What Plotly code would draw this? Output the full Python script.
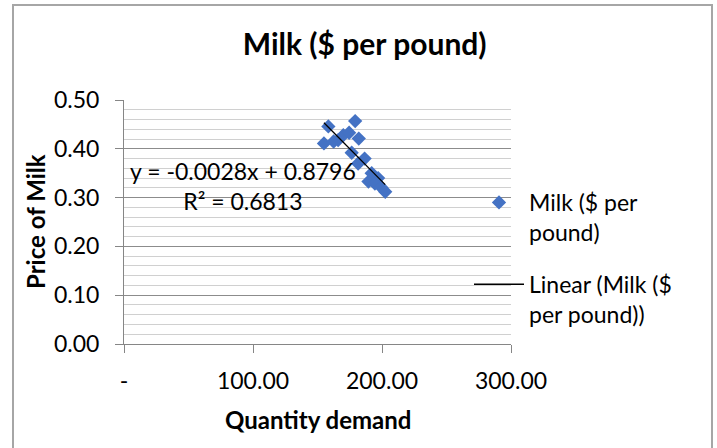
import numpy as np
import plotly.graph_objects as go

# Data
quantity = [155.0, 158.4, 162.5, 166.0, 170.0, 174.5, 179.2, 182.0, 176.5,
            186.5, 181.5, 192.0, 189.5, 197.0, 194.5, 199.5, 202.5]
price = [0.411, 0.446, 0.415, 0.418, 0.428, 0.433, 0.457, 0.421, 0.392,
         0.380, 0.370, 0.350, 0.333, 0.340, 0.329, 0.321, 0.312]

x_tickvals = [0, 100, 200, 300]
x_ticktext = ["-", "100.00", "200.00", "300.00"]

chart_title = "Milk ($ per pound)"
x_title = "Quantity demand"
y_title = "Price of Milk"
series_name = "Milk ($ per<br>pound)"
trend_name = "Linear (Milk ($<br>per pound))"
equation_text = "y = -0.0028x + 0.8796<br>R² = 0.6813"

# Linear trendline
slope, intercept = np.polyfit(quantity, price, 1)
tx = np.array([min(quantity), max(quantity)])
ty = slope * tx + intercept

FONT = "Lato"
W, H = 717, 448
L, R, T, B = 124, 206, 100, 104
pw, ph = W - L - R, H - T - B

def px_to_paper_x(px):
    return (px - L) / pw

def px_to_paper_y(py):
    return (H - B - py) / ph

fig = go.Figure()
fig.add_trace(go.Scatter(
    x=quantity, y=price, mode="markers", name=series_name,
    marker=dict(symbol="diamond", size=11, color="#4472C4"),
    legendgroup="a",
))
fig.add_trace(go.Scatter(
    x=tx, y=ty, mode="lines", name=trend_name,
    line=dict(color="black", width=1.3),
    legendgroup="b",
))

fig.update_layout(
    width=W, height=H,
    margin=dict(l=L, r=R, t=T, b=B, autoexpand=False),
    paper_bgcolor="white", plot_bgcolor="white",
    font=dict(family=FONT, size=23, color="black"),
    title=dict(text="<b>" + chart_title + "</b>", x=364.7 / W, xanchor="center",
               y=1 - 44.5 / H, yanchor="middle",
               font=dict(family=FONT, size=30, color="black")),
    showlegend=True,
    legend=dict(x=px_to_paper_x(469), xanchor="left",
                y=px_to_paper_y(181), yanchor="top",
                valign="top", bgcolor="rgba(0,0,0,0)",
                traceorder="grouped", tracegroupgap=19, itemwidth=50,
                font=dict(family=FONT, size=23, color="black")),
    xaxis=dict(range=[0, 300], tickvals=x_tickvals, ticktext=x_ticktext,
               ticks="outside", ticklen=8, tickcolor="#868686", tickwidth=1,
               showline=True, linecolor="#868686", linewidth=1,
               showgrid=False, zeroline=False, ticklabelstandoff=8,
               tickfont=dict(family=FONT, size=23, color="black")),
    yaxis=dict(range=[0, 0.5001], dtick=0.1, tick0=0, tickformat=".2f",
               ticks="outside", ticklen=8, tickcolor="#868686", tickwidth=1,
               showline=True, linecolor="#868686", linewidth=1,
               showgrid=True, gridcolor="#8c8c8c", gridwidth=1,
               zeroline=False, ticklabelstandoff=11,
               minor=dict(dtick=0.02, tick0=0, showgrid=True,
                          gridcolor="#d0d0d0", gridwidth=1, ticks=""),
               tickfont=dict(family=FONT, size=23, color="black")),
    annotations=[
        dict(text=equation_text, xref="paper", yref="paper",
             x=px_to_paper_x(243), y=px_to_paper_y(186),
             xanchor="center", yanchor="middle", align="center",
             showarrow=False, font=dict(family=FONT, size=23, color="black")),
        dict(text="<b>" + x_title + "</b>", xref="paper", yref="paper",
             x=px_to_paper_x(318), y=px_to_paper_y(419),
             xanchor="center", yanchor="middle", showarrow=False,
             font=dict(family=FONT, size=24, color="black")),
        dict(text="<b>" + y_title + "</b>", xref="paper", yref="paper",
             x=px_to_paper_x(35), y=px_to_paper_y(222),
             xanchor="center", yanchor="middle", showarrow=False, textangle=-90,
             font=dict(family=FONT, size=24, color="black")),
    ],
    shapes=[
        dict(type="rect", xref="paper", yref="paper",
             x0=px_to_paper_x(13), x1=px_to_paper_x(712),
             y0=px_to_paper_y(452), y1=px_to_paper_y(5),
             line=dict(color="#a6a6a6", width=2), fillcolor="rgba(0,0,0,0)",
             layer="below"),
    ],
)

fig.write_html("out.html",
               config={"displayModeBar": False},
               post_script="document.body.style.margin='0';document.body.style.overflow='hidden';")
